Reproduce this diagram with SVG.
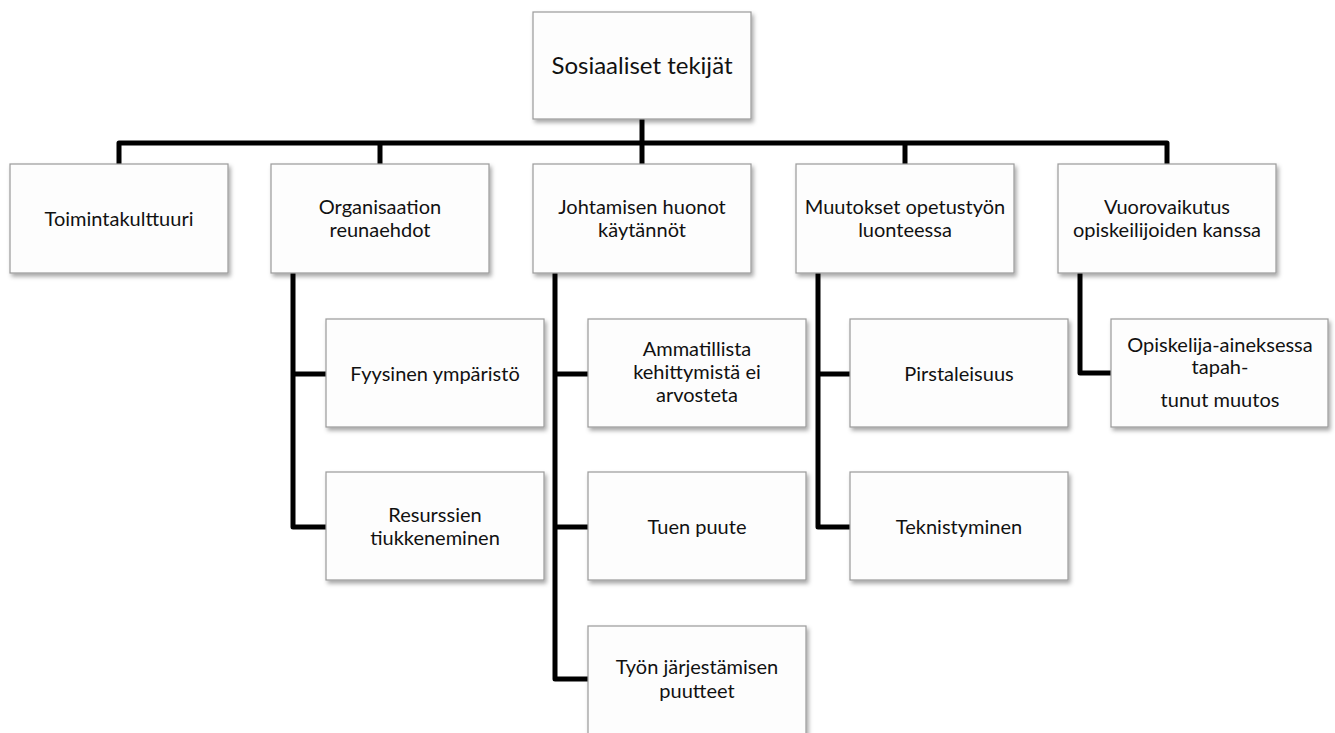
<svg xmlns="http://www.w3.org/2000/svg" width="1335" height="733" viewBox="0 0 1335 733">
  <defs>
    <filter id="shadow" x="-10%" y="-10%" width="125%" height="130%">
      <feDropShadow dx="2" dy="3" stdDeviation="2" flood-color="#000" flood-opacity="0.35"/>
    </filter>
  </defs>
  <style>
    .box { fill: #fdfdfd; stroke: #9a9a9a; stroke-width: 1.2; filter: url(#shadow); }
    .lbl { font-family: Lato, "Open Sans", "Liberation Sans", sans-serif; font-size: 20px; fill: #111; text-anchor: middle; }
    .title { font-size: 24px; }
    .wire { fill: none; stroke: #000; stroke-width: 5; stroke-linejoin: round; stroke-linecap: butt; }
  </style>
  <rect width="1335" height="733" fill="#fff"/>

  <!-- connectors -->
  <g id="connectors">
    <path class="wire" d="M642,119 V164"/>
    <path class="wire" d="M119,164 V143 H1167 V164"/>
    <path class="wire" d="M380,143 V164"/>
    <path class="wire" d="M905,143 V164"/>
    <path class="wire" d="M293,273 V527 H326 M293,374 H326"/>
    <path class="wire" d="M555,273 V679 H588 M555,374 H588 M555,527 H588"/>
    <path class="wire" d="M818,273 V527 H850 M818,374 H850"/>
    <path class="wire" d="M1080,273 V373 H1111"/>
  </g>

  <!-- root -->
  <g id="sosiaaliset-tekijat">
    <rect class="box" x="533" y="12" width="218" height="107"/>
    <text class="lbl title" x="642" y="74">Sosiaaliset tekijät</text>
  </g>

  <!-- first level -->
  <g id="toimintakulttuuri">
    <rect class="box" x="10" y="164" width="218" height="109"/>
    <text class="lbl" x="119" y="226">Toimintakulttuuri</text>
  </g>
  <g id="organisaation-reunaehdot">
    <rect class="box" x="271" y="164" width="218" height="109"/>
    <text class="lbl" x="380" y="214">Organisaation</text>
    <text class="lbl" x="380" y="237">reunaehdot</text>
  </g>
  <g id="johtamisen-huonot-kaytannot">
    <rect class="box" x="533" y="164" width="218" height="109"/>
    <text class="lbl" x="642" y="214">Johtamisen huonot</text>
    <text class="lbl" x="642" y="237">käytännöt</text>
  </g>
  <g id="muutokset-opetustyon-luonteessa">
    <rect class="box" x="796" y="164" width="218" height="109"/>
    <text class="lbl" x="905" y="214">Muutokset opetustyön</text>
    <text class="lbl" x="905" y="237">luonteessa</text>
  </g>
  <g id="vuorovaikutus-opiskelijoiden-kanssa">
    <rect class="box" x="1058" y="164" width="218" height="109"/>
    <text class="lbl" x="1167" y="214">Vuorovaikutus</text>
    <text class="lbl" x="1167" y="237">opiskeilijoiden kanssa</text>
  </g>

  <!-- second level: Organisaation reunaehdot -->
  <g id="fyysinen-ymparisto">
    <rect class="box" x="326" y="319" width="218" height="108"/>
    <text class="lbl" x="435" y="381">Fyysinen ympäristö</text>
  </g>
  <g id="resurssien-tiukkeneminen">
    <rect class="box" x="326" y="472" width="218" height="108"/>
    <text class="lbl" x="435" y="522">Resurssien</text>
    <text class="lbl" x="435" y="545">tiukkeneminen</text>
  </g>

  <!-- second level: Johtamisen huonot käytännöt -->
  <g id="ammatillista-kehittymista">
    <rect class="box" x="588" y="319" width="218" height="108"/>
    <text class="lbl" x="697" y="356">Ammatillista</text>
    <text class="lbl" x="697" y="379">kehittymistä ei</text>
    <text class="lbl" x="697" y="402">arvosteta</text>
  </g>
  <g id="tuen-puute">
    <rect class="box" x="588" y="472" width="218" height="108"/>
    <text class="lbl" x="697" y="534">Tuen puute</text>
  </g>
  <g id="tyon-jarjestamisen-puutteet">
    <rect class="box" x="588" y="626" width="218" height="108"/>
    <text class="lbl" x="697" y="674">Työn järjestämisen</text>
    <text class="lbl" x="697" y="698">puutteet</text>
  </g>

  <!-- second level: Muutokset opetustyön luonteessa -->
  <g id="pirstaleisuus">
    <rect class="box" x="850" y="319" width="218" height="108"/>
    <text class="lbl" x="959" y="381">Pirstaleisuus</text>
  </g>
  <g id="teknistyminen">
    <rect class="box" x="850" y="472" width="218" height="108"/>
    <text class="lbl" x="959" y="534">Teknistyminen</text>
  </g>

  <!-- second level: Vuorovaikutus opiskelijoiden kanssa -->
  <g id="opiskelija-aines">
    <rect class="box" x="1111" y="319" width="217" height="108"/>
    <text class="lbl" x="1220" y="352">Opiskelija-aineksessa</text>
    <text class="lbl" x="1220" y="374">tapah-</text>
    <text class="lbl" x="1220" y="407">tunut muutos</text>
  </g>
</svg>
